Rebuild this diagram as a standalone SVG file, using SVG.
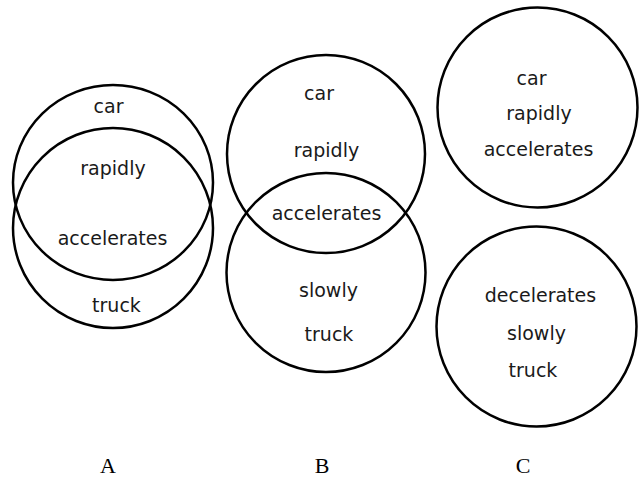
<svg xmlns="http://www.w3.org/2000/svg" width="641" height="478" viewBox="0 0 641 478">
<style>
.c{fill:none;stroke:#000;stroke-width:2.5}
.t{font-family:"DejaVu Sans",sans-serif;font-size:19px;fill:#1a1a1a;text-anchor:middle}
.l{font-family:"Liberation Serif",serif;font-size:22px;fill:#000;text-anchor:middle}
</style>
<rect width="641" height="478" fill="#fff"/>
<g id="diagramA">
<ellipse class="c" cx="113" cy="182.5" rx="100" ry="97.5"/>
<ellipse class="c" cx="113" cy="228" rx="100" ry="100"/>
<text class="t" x="108.5" y="113">car</text>
<text class="t" x="113" y="175">rapidly</text>
<text class="t" x="112.5" y="245">accelerates</text>
<text class="t" x="116.5" y="312">truck</text>
</g>
<g id="diagramB">
<circle class="c" cx="326" cy="154" r="99"/>
<circle class="c" cx="326" cy="272.5" r="99.5"/>
<text class="t" x="319" y="100">car</text>
<text class="t" x="326.5" y="157">rapidly</text>
<text class="t" x="326.5" y="220">accelerates</text>
<text class="t" x="328.5" y="297">slowly</text>
<text class="t" x="329" y="341">truck</text>
</g>
<g id="diagramC">
<circle class="c" cx="537.5" cy="107.5" r="100"/>
<circle class="c" cx="536.5" cy="326.5" r="100"/>
<text class="t" x="531.5" y="85">car</text>
<text class="t" x="539" y="120">rapidly</text>
<text class="t" x="538.5" y="156">accelerates</text>
<text class="t" x="540.5" y="302">decelerates</text>
<text class="t" x="536.5" y="340">slowly</text>
<text class="t" x="533" y="377">truck</text>
</g>
<g id="labels">
<text class="l" x="108" y="473">A</text>
<text class="l" x="322" y="473">B</text>
<text class="l" x="523" y="473">C</text>
</g>
<g id="connectors"/>
</svg>
